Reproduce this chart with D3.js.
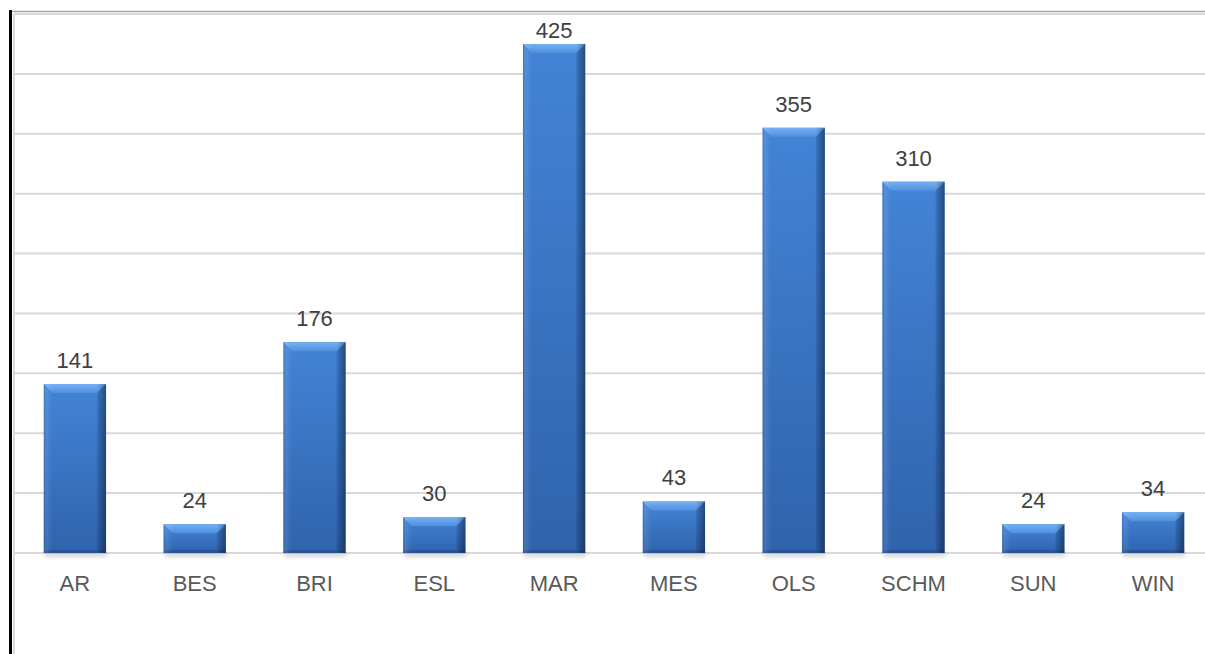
<!DOCTYPE html>
<html>
<head>
<meta charset="utf-8">
<script src="https://cdn.jsdelivr.net/npm/d3@7"></script>
<style>
  body { margin: 0; background: #fff; }
  svg { display: block; font-family: "Liberation Sans", Arial, sans-serif; }
</style>
</head>
<body>
<svg id="chart"></svg>
<script>
const categories = ["AR", "BES", "BRI", "ESL", "MAR", "MES", "OLS", "SCHM", "SUN", "WIN"];
const values = [141, 24, 176, 30, 425, 43, 355, 310, 24, 34];
const yTicks = [0, 50, 100, 150, 200, 250, 300, 350, 400, 450];

const width = 1205, height = 654;

const svg = d3.select("#chart")
  .attr("width", width)
  .attr("height", height);

const defs = svg.append("defs");

// body gradient (vertical)
const gBody = defs.append("linearGradient").attr("id", "barBody")
  .attr("x1", 0).attr("y1", 0).attr("x2", 0).attr("y2", 1);
gBody.append("stop").attr("offset", "0%").attr("stop-color", "#4384d6");
gBody.append("stop").attr("offset", "100%").attr("stop-color", "#3063ac");

// side shading (horizontal)
const gSide = defs.append("linearGradient").attr("id", "barSide")
  .attr("x1", 0).attr("y1", 0).attr("x2", 1).attr("y2", 0);
gSide.append("stop").attr("offset", "0%").attr("stop-color", "#0a2a5c").attr("stop-opacity", 0.15);
gSide.append("stop").attr("offset", "4%").attr("stop-color", "#ffffff").attr("stop-opacity", 0.1);
gSide.append("stop").attr("offset", "14%").attr("stop-color", "#ffffff").attr("stop-opacity", 0);
gSide.append("stop").attr("offset", "86%").attr("stop-color", "#000000").attr("stop-opacity", 0);
gSide.append("stop").attr("offset", "100%").attr("stop-color", "#000000").attr("stop-opacity", 0.35);

const gTop = defs.append("linearGradient").attr("id", "barTop")
  .attr("x1", 0).attr("y1", 0).attr("x2", 0).attr("y2", 1);
gTop.append("stop").attr("offset", "0%").attr("stop-color", "#74b0f2");
gTop.append("stop").attr("offset", "100%").attr("stop-color", "#4f91df");

const shadow = defs.append("filter").attr("id", "shadow")
  .attr("x", "-20%").attr("y", "-50%").attr("width", "140%").attr("height", "200%");
shadow.append("feGaussianBlur").attr("stdDeviation", 2);

// scales
const x = d3.scaleBand()
  .domain(categories)
  .range([15, 1213])
  .paddingInner(0.48)
  .paddingOuter(0.24);

const y = d3.scaleLinear()
  .domain([0, 450])
  .range([553, 14]);

// gridlines
svg.append("g")
  .selectAll("line")
  .data(yTicks)
  .join("line")
  .attr("x1", 14)
  .attr("x2", width)
  .attr("y1", d => y(d))
  .attr("y2", d => y(d))
  .attr("stroke", "#d9d9d9")
  .attr("stroke-width", 2);

// frame
svg.append("line")
  .attr("x1", 10).attr("x2", width)
  .attr("y1", 11.5).attr("y2", 11.5)
  .attr("stroke", "#a6a6a6").attr("stroke-width", 1.5);
svg.append("line")
  .attr("x1", 14).attr("x2", 14)
  .attr("y1", 14).attr("y2", height)
  .attr("stroke", "#d9d9d9").attr("stroke-width", 2);
svg.append("line")
  .attr("x1", 10.5).attr("x2", 10.5)
  .attr("y1", 10).attr("y2", height)
  .attr("stroke", "#000").attr("stroke-width", 3);

const bw = x.bandwidth();
const bev = 9;
const bars = svg.append("g")
  .selectAll("g")
  .data(categories.map((c, i) => ({ c, v: values[i] })))
  .join("g");

// shadow under bar
bars.append("rect")
  .attr("x", d => x(d.c) + 1)
  .attr("y", y(0) - 1)
  .attr("width", bw)
  .attr("height", 5)
  .attr("fill", "#000")
  .attr("opacity", 0.16)
  .attr("filter", "url(#shadow)");

bars.append("rect")
  .attr("x", d => x(d.c))
  .attr("y", d => y(d.v))
  .attr("width", bw)
  .attr("height", d => y(0) - y(d.v))
  .attr("fill", "url(#barBody)");

// top bevel
bars.append("path")
  .attr("d", d => {
    const x0 = x(d.c), x1 = x0 + bw, t = y(d.v);
    return `M${x0},${t}L${x1},${t}L${x1 - bev},${t + bev}L${x0 + bev},${t + bev}Z`;
  })
  .attr("fill", "url(#barTop)");

// right bevel
bars.append("path")
  .attr("d", d => {
    const x1 = x(d.c) + bw, t = y(d.v), b = y(0);
    return `M${x1},${t}L${x1 - bev},${t + bev}L${x1 - bev},${b - 3}L${x1},${b}Z`;
  })
  .attr("fill", "#0a2a5c")
  .attr("opacity", 0.18);

// bottom bevel
bars.append("path")
  .attr("d", d => {
    const x0 = x(d.c), x1 = x0 + bw, b = y(0);
    return `M${x0},${b}L${x1},${b}L${x1 - 3},${b - 3}L${x0 + 3},${b - 3}Z`;
  })
  .attr("fill", "#0a2a5c")
  .attr("opacity", 0.3);

bars.append("rect")
  .attr("x", d => x(d.c))
  .attr("y", d => y(d.v))
  .attr("width", bw)
  .attr("height", d => y(0) - y(d.v))
  .attr("fill", "url(#barSide)");

// value labels
bars.append("text")
  .attr("x", d => x(d.c) + bw / 2)
  .attr("y", d => Math.max(y(d.v) - 16, 38))
  .attr("text-anchor", "middle")
  .attr("fill", "#404040")
  .style("font-size", "22px")
  .text(d => d.v);

// category labels
svg.append("g")
  .selectAll("text")
  .data(categories)
  .join("text")
  .attr("x", d => x(d) + bw / 2)
  .attr("y", 590.5)
  .attr("text-anchor", "middle")
  .attr("fill", "#595959")
  .style("font-size", "22px")
  .text(d => d);
</script>
</body>
</html>
